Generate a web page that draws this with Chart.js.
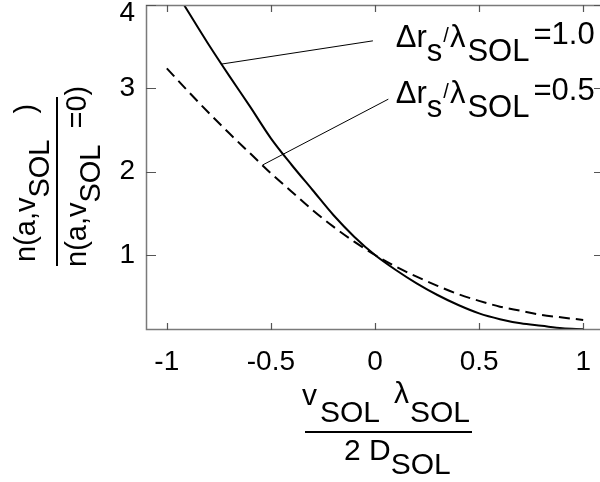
<!DOCTYPE html>
<html>
<head>
<meta charset="utf-8">
<script src="https://cdn.jsdelivr.net/npm/chart.js@4/dist/chart.umd.min.js"></script>
<style>
  html, body { margin: 0; padding: 0; background: #fff; width: 600px; height: 482px; overflow: hidden; }
  canvas { display: block; }
</style>
</head>
<body>
<canvas id="c" width="610" height="482"></canvas>
<script>
// Normalised velocity v_SOL * lambda_SOL / (2 D_SOL)
const vSol = [-1.0, -0.9, -0.8, -0.7, -0.6, -0.5, -0.4, -0.3, -0.2, -0.1, 0.0,
               0.1,  0.2,  0.3,  0.4,  0.5,  0.6,  0.7,  0.8,  0.9, 1.0];
// Density ratio n(a, v_SOL) / n(a, v_SOL = 0) for delta r_s / lambda_SOL = 1.0
const ratioWide = [4.35, 3.93, 3.53, 3.15, 2.78, 2.40, 2.08, 1.78, 1.48, 1.22, 1.00,
                   0.82, 0.66, 0.52, 0.40, 0.30, 0.23, 0.18, 0.15, 0.12, 0.11];
// ... and for delta r_s / lambda_SOL = 0.5
const ratioNarrow = [3.24, 2.97, 2.71, 2.46, 2.22, 1.98, 1.76, 1.54, 1.34, 1.16, 1.00,
                     0.86, 0.74, 0.63, 0.53, 0.45, 0.38, 0.33, 0.28, 0.25, 0.22];

const xTicks = [-1, -0.5, 0, 0.5, 1];
const xTickLabels = ['-1', '-0.5', '0', '0.5', '1'];
const yTicks = [1, 2, 3, 4];
const yTickLabels = ['1', '2', '3', '4'];

// Curve labels: value text, text anchor and leader line (data coordinates)
const labelValues = ['=1.0', '=0.5'];
const labelAnchorX = [0.10, 0.10];
const labelAnchorY = [3.50, 2.83];
const leaderFrom = [[-0.74, 3.29], [-0.54, 2.08]];
const leaderTo   = [[-0.01, 3.57], [0.064, 2.87]];

const FONT = '"Liberation Sans", Arial, Helvetica, sans-serif';

function drawRich(ctx, parts, x, y, size) {
  ctx.textAlign = 'left';
  ctx.textBaseline = 'alphabetic';
  let cx = x;
  for (const p of parts) {
    ctx.font = (p.size || size) + 'px ' + FONT;
    cx += (p.pre || 0);
    ctx.fillText(p.t, cx, y + (p.dy || 0));
    cx += ctx.measureText(p.t).width;
  }
  return cx - x;
}

const framePlugin = {
  id: 'frame',
  afterDraw(chart) {
    const ctx = chart.ctx;
    const a = chart.chartArea;
    const xs = chart.scales.x, ys = chart.scales.y;
    ctx.save();

    // leader lines
    ctx.strokeStyle = '#000';
    ctx.lineWidth = 1;
    for (let i = 0; i < leaderFrom.length; i++) {
      ctx.beginPath();
      ctx.moveTo(xs.getPixelForValue(leaderFrom[i][0]), ys.getPixelForValue(leaderFrom[i][1]));
      ctx.lineTo(xs.getPixelForValue(leaderTo[i][0]), ys.getPixelForValue(leaderTo[i][1]));
      ctx.stroke();
    }

    // frame
    ctx.strokeStyle = '#7a7a7a';
    ctx.lineWidth = 1.5;
    ctx.strokeRect(a.left + 0.5, a.top + 0.5, a.right - a.left - 1, a.bottom - a.top - 1);

    // ticks on all four sides
    ctx.lineWidth = 1.2;
    ctx.strokeStyle = '#555';
    for (const v of xTicks) {
      const px = Math.round(xs.getPixelForValue(v)) + 0.5;
      ctx.beginPath();
      ctx.moveTo(px, a.bottom); ctx.lineTo(px, a.bottom - 7);
      ctx.moveTo(px, a.top); ctx.lineTo(px, a.top + 7);
      ctx.stroke();
    }
    for (const v of yTicks) {
      const py = Math.round(ys.getPixelForValue(v)) + 0.5;
      ctx.beginPath();
      ctx.moveTo(a.left, py); ctx.lineTo(a.left + 10, py);
      ctx.moveTo(a.right, py); ctx.lineTo(a.right - 10, py);
      ctx.stroke();
    }

    // tick labels
    ctx.fillStyle = '#000';
    ctx.font = '28px ' + FONT;
    ctx.textAlign = 'center';
    ctx.textBaseline = 'middle';
    xTicks.forEach((v, i) => {
      ctx.fillText(xTickLabels[i], xs.getPixelForValue(v), a.bottom + 32);
    });
    ctx.textAlign = 'right';
    yTicks.forEach((v, i) => {
      const py = Math.max(ys.getPixelForValue(v), 13);
      ctx.fillText(yTickLabels[i], a.left - 11, py);
    });

    // x-axis title: v_SOL lambda_SOL / (2 D_SOL)
    drawRich(ctx, [
      { t: 'v' }, { t: 'SOL', dy: 17, pre: 3 }, { t: 'λ', dy: -2, pre: 14 }, { t: 'SOL', dy: 17, pre: 1 }
    ], 302, 405, 30);
    ctx.fillRect(305, 431, 167, 2);
    drawRich(ctx, [
      { t: '2 D' }, { t: 'SOL', dy: 14 }
    ], 344, 460, 30);

    // y-axis title: n(a, v_SOL) / n(a, v_SOL = 0), rotated
    ctx.translate(0, 182);
    ctx.rotate(-Math.PI / 2);
    drawRich(ctx, [
      { t: 'n(a,v' }, { t: 'SOL', dy: 14 }, { t: ')', pre: 26 }
    ], -80, 35, 29);
    ctx.fillRect(-84, 56, 169, 2);
    drawRich(ctx, [
      { t: 'n(a,v' }, { t: 'SOL', dy: 14 }, { t: '=0)', pre: 16 }
    ], -85, 86, 29);
    ctx.setTransform(1, 0, 0, 1, 0, 0);

    // curve labels
    for (let i = 0; i < labelValues.length; i++) {
      const lx = xs.getPixelForValue(labelAnchorX[i]);
      const ly = ys.getPixelForValue(labelAnchorY[i]);
      drawRich(ctx, [
        { t: 'Δr' }, { t: 's', dy: 14 }, { t: '/', dy: -5, size: 20, pre: 1 }, { t: 'λ', pre: 1 },
        { t: 'SOL', dy: 14, pre: 2 }, { t: labelValues[i], dy: -3, pre: 4 }
      ], lx, ly, 31);
    }
    ctx.restore();
  }
};

const toPoints = ys => vSol.map((x, i) => ({ x, y: ys[i] }));

new Chart(document.getElementById('c'), {
  type: 'line',
  data: {
    datasets: [
      {
        data: toPoints(ratioWide),
        borderColor: '#000',
        borderWidth: 2,
        pointRadius: 0,
        cubicInterpolationMode: 'monotone',
        fill: false
      },
      {
        data: toPoints(ratioNarrow),
        borderColor: '#000',
        borderWidth: 2,
        borderDash: [11, 6],
        pointRadius: 0,
        cubicInterpolationMode: 'monotone',
        fill: false
      }
    ]
  },
  options: {
    responsive: false,
    animation: false,
    devicePixelRatio: 1,
    layout: { padding: { left: 146, top: 5, right: 6, bottom: 152 } },
    plugins: { legend: { display: false }, tooltip: { enabled: false } },
    scales: {
      x: { type: 'linear', min: -1.1, max: 1.1, display: false },
      y: { type: 'linear', min: 0.1, max: 4, display: false }
    }
  },
  plugins: [framePlugin]
});
</script>
</body>
</html>
